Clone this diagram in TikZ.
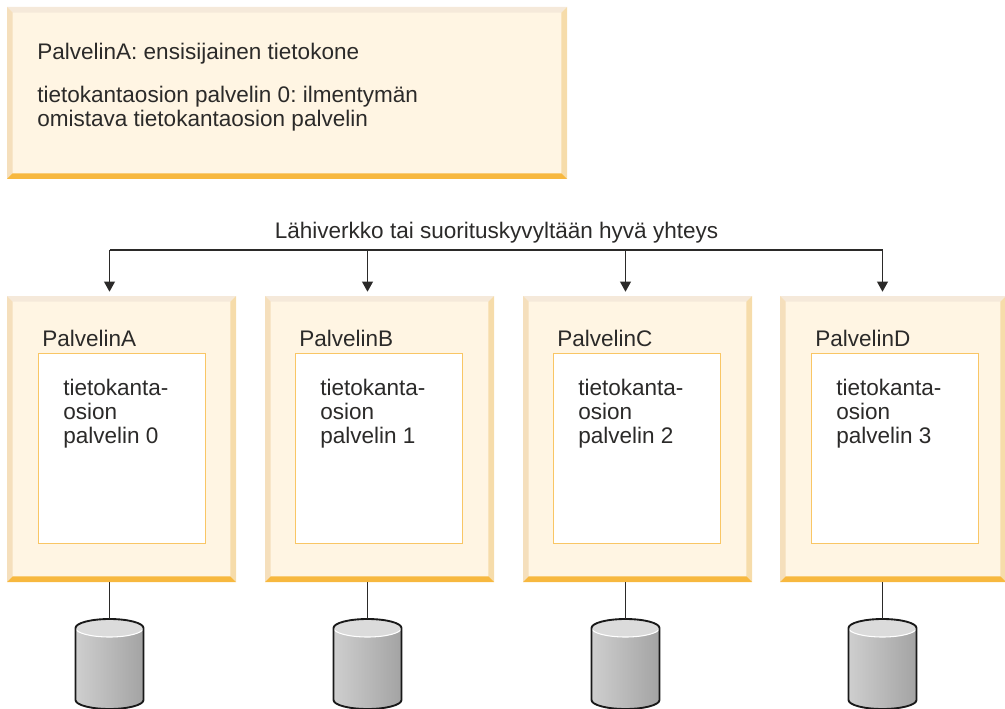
\documentclass[tikz,border=0pt]{standalone}
\usepackage{fontspec}
\setmainfont{Liberation Sans}
\usetikzlibrary{arrows.meta}

\definecolor{face}{HTML}{FFF5E3}
\definecolor{bevtop}{HTML}{F5E9DA}
\definecolor{bevleft}{HTML}{F5DFBC}
\definecolor{bevright}{HTML}{F6DCAA}
\definecolor{bevbottom}{HTML}{F7B83F}
\definecolor{ink}{HTML}{2B2A29}

\tikzset{
  panel/.style={
    fill=face, inner sep=0pt,
    path picture={
      \coordinate (nw) at (path picture bounding box.north west);
      \coordinate (ne) at (path picture bounding box.north east);
      \coordinate (sw) at (path picture bounding box.south west);
      \coordinate (se) at (path picture bounding box.south east);
      \fill[bevtop] (nw) -- (ne) -- ([shift={(-4.2pt,-4.2pt)}]ne) -- ([shift={(4.2pt,-4.2pt)}]nw) -- cycle;
      \fill[bevleft] (nw) -- (sw) -- ([shift={(4.2pt,4.2pt)}]sw) -- ([shift={(4.2pt,-4.2pt)}]nw) -- cycle;
      \fill[bevright] (ne) -- (se) -- ([shift={(-4.2pt,4.2pt)}]se) -- ([shift={(-4.2pt,-4.2pt)}]ne) -- cycle;
      \fill[bevbottom] (sw) -- (se) -- ([shift={(-4.2pt,4.2pt)}]se) -- ([shift={(4.2pt,4.2pt)}]sw) -- cycle;
    }
  },
  pics/disk/.style={code={
    \coordinate (-top) at (0,0);
    \path[left color=black!19, right color=black!36]
      (-34,9) -- (-34,81) arc [start angle=180, end angle=360, x radius=25.5pt, y radius=6.75pt]
      -- (34,9) arc [start angle=0, end angle=180, x radius=25.5pt, y radius=6.75pt] -- cycle;
    \draw[white, fill=black!14, line width=0.8pt] (0,9) ellipse [x radius=25.5pt, y radius=6.75pt];
    \draw[black!90, line width=1.4pt, line join=round]
      (-34,9) -- (-34,81) arc [start angle=180, end angle=360, x radius=25.5pt, y radius=6.75pt]
      -- (34,9) arc [start angle=0, end angle=180, x radius=25.5pt, y radius=6.75pt] -- cycle;
  }}
}

\begin{document}
\begin{tikzpicture}[
  x=0.75pt, y=-0.75pt,
  >=Stealth,
  srv/.style={panel, minimum width=171.75pt, minimum height=214.5pt},
  inn/.style={draw=bevbottom!80!white, fill=white, line width=0.75pt, inner sep=0pt,
    minimum width=125.25pt, minimum height=142.5pt},
  txt/.style={text=ink, inner sep=0pt, anchor=west, font=\fontsize{16.9}{18}\selectfont\frenchspacing, align=left},
  bus/.style={ink, line width=1.1pt},
  drop/.style={bus, -{Stealth[length=7.5pt, width=8pt, inset=0pt]}, shorten >=3pt}
]
\useasboundingbox (0,0) rectangle (1005,709);
% ensisijainen kone
\node[panel, minimum width=420pt, minimum height=129pt] (prim) at (287,93) {};
\node[txt, anchor=north west] (primtxt) at (37,43) {PalvelinA: ensisijainen tietokone\\[14.25pt]
  tietokantaosion palvelin 0: ilmentymän\\omistava tietokantaosion palvelin};

% verkko
\node[txt, anchor=center] (lan) at (496.5,233) {Lähiverkko tai suorituskyvyltään hyvä yhteys};
\coordinate (busA) at (109.5,250);
\coordinate (busB) at (367.5,250);
\coordinate (busC) at (625.5,250);
\coordinate (busD) at (882.5,250);

% palvelimet
\node[srv] (srvA) at (121.5,439) {};
\node[srv] (srvB) at (379.5,439) {};
\node[srv] (srvC) at (637.5,439) {};
\node[srv, minimum width=169.5pt] (srvD) at (893,439) {};

\node[inn] (innA) at (121.5,448) {};
\node[inn] (innB) at (379,448) {};
\node[inn] (innC) at (637,448) {};
\node[inn] (innD) at (895,448) {};

\node[txt] (nameA) at (42,338) {PalvelinA};
\node[txt] (nameB) at (299,338) {PalvelinB};
\node[txt] (nameC) at (557,338) {PalvelinC};
\node[txt] (nameD) at (815,338) {PalvelinD};

\node[txt] (partA) at (63,414) {tietokanta-\\osion\\palvelin 0};
\node[txt] (partB) at (320,414) {tietokanta-\\osion\\palvelin 1};
\node[txt] (partC) at (578,414) {tietokanta-\\osion\\palvelin 2};
\node[txt] (partD) at (836,414) {tietokanta-\\osion\\palvelin 3};

% levyt
\pic (dbA) at (109.5,619) {disk};
\pic (dbB) at (367.5,619) {disk};
\pic (dbC) at (625.5,619) {disk};
\pic (dbD) at (882.5,619) {disk};

\draw[bus] (busA) -- (busD);
\draw[drop] (busA) -- (busA |- srvA.north);
\draw[drop] (busB) -- (busB |- srvB.north);
\draw[drop] (busC) -- (busC |- srvC.north);
\draw[drop] (busD) -- (busD |- srvD.north);

\draw[bus] (srvA.south -| dbA-top) -- (dbA-top);
\draw[bus] (srvB.south -| dbB-top) -- (dbB-top);
\draw[bus] (srvC.south -| dbC-top) -- (dbC-top);
\draw[bus] (srvD.south -| dbD-top) -- (dbD-top);
\end{tikzpicture}
\end{document}
